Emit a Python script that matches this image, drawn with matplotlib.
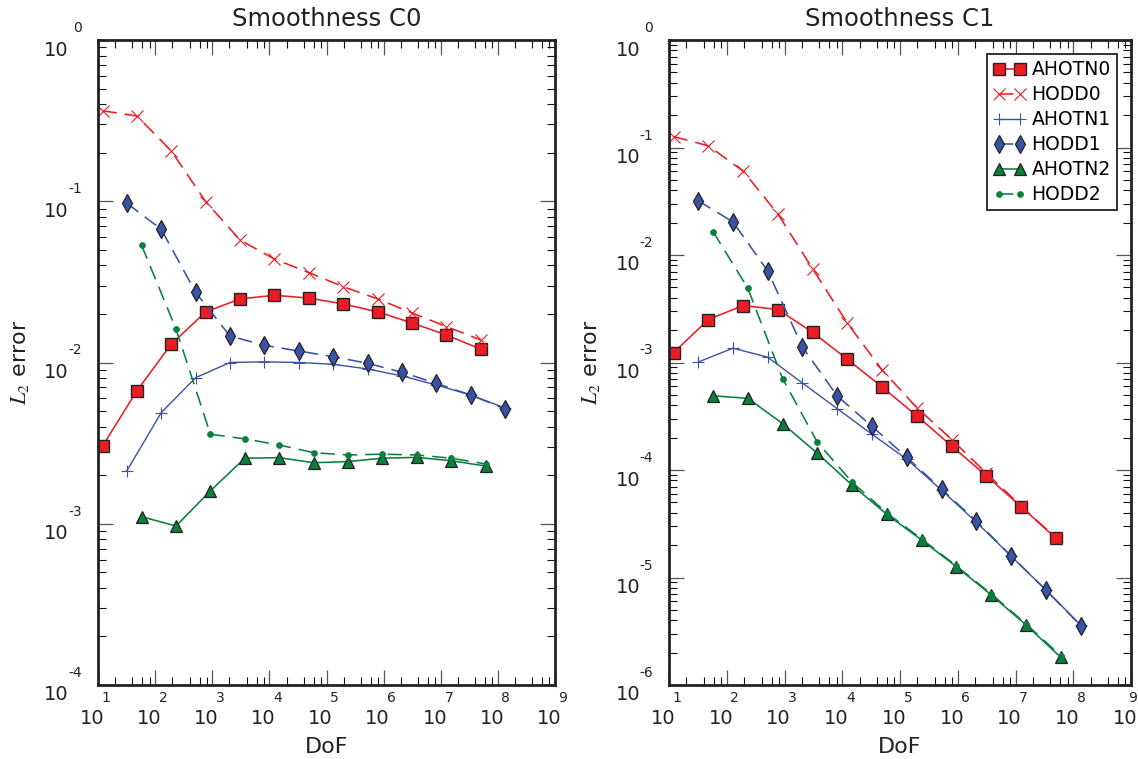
import numpy as np
import matplotlib
matplotlib.use('Agg')
import matplotlib.pyplot as plt
from matplotlib.ticker import LogLocator, NullFormatter

plt.rcParams['font.family'] = 'DejaVu Sans'
plt.rcParams['mathtext.fontset'] = 'stix'

# degrees of freedom for each polynomial order
dof_p0 = [12, 48, 192, 768, 3072, 12288, 49152, 196608, 786432, 3145728, 12582912, 50331648]
dof_p1 = [32, 128, 512, 2048, 8192, 32768, 131072, 524288, 2097152, 8388608, 33554432, 134217728]
dof_p2 = [58, 232, 928, 3712, 14848, 59392, 237568, 950272, 3801088, 15204352, 60817408]

# Smoothness C0
c0_ahotn0 = [3.03e-3, 6.68e-3, 1.30e-2, 2.06e-2, 2.48e-2, 2.61e-2, 2.51e-2, 2.31e-2, 2.06e-2, 1.76e-2, 1.48e-2, 1.21e-2]
c0_hodd0 = [0.364, 0.338, 0.205, 0.0994, 0.0575, 0.0438, 0.0361, 0.0295, 0.0248, 0.0203, 0.0167, 0.0138]
c0_ahotn1 = [2.13e-3, 4.89e-3, 8.05e-3, 1.00e-2, 1.01e-2, 1.00e-2, 9.75e-3, 9.12e-3, 8.25e-3, 7.25e-3, 6.28e-3, 5.22e-3]
c0_hodd1 = [0.0971, 0.0670, 0.0272, 1.459e-2, 1.278e-2, 1.178e-2, 1.086e-2, 9.89e-3, 8.69e-3, 7.43e-3, 6.28e-3, 5.15e-3]
c0_ahotn2 = [1.106e-3, 9.68e-4, 1.60e-3, 2.55e-3, 2.57e-3, 2.39e-3, 2.43e-3, 2.55e-3, 2.58e-3, 2.46e-3, 2.28e-3]
c0_hodd2 = [0.0533, 0.01614, 3.59e-3, 3.36e-3, 3.08e-3, 2.76e-3, 2.67e-3, 2.70e-3, 2.67e-3, 2.55e-3, 2.35e-3]

# Smoothness C1
c1_ahotn0 = [1.233e-3, 2.51e-3, 3.39e-3, 3.11e-3, 1.91e-3, 1.07e-3, 5.91e-4, 3.18e-4, 1.67e-4, 8.82e-5, 4.54e-5, 2.31e-5]
c1_hodd0 = [0.1265, 0.1037, 0.0604, 0.0241, 7.43e-3, 2.32e-3, 8.5e-4, 3.80e-4, 1.92e-4, 9.33e-5, 4.61e-5, 2.33e-5]
c1_ahotn1 = [1.009e-3, 1.36e-3, 1.12e-3, 6.44e-4, 3.72e-4, 2.15e-4, 1.26e-4, 6.49e-5, 3.27e-5, 1.58e-5, 7.66e-6, 3.62e-6]
c1_hodd1 = [0.0320, 0.0203, 7.11e-3, 1.39e-3, 4.88e-4, 2.55e-4, 1.31e-4, 6.64e-5, 3.35e-5, 1.59e-5, 7.66e-6, 3.57e-6]
c1_ahotn2 = [4.90e-4, 4.64e-4, 2.70e-4, 1.43e-4, 7.22e-5, 3.86e-5, 2.23e-5, 1.26e-5, 6.88e-6, 3.62e-6, 1.81e-6]
c1_hodd2 = [0.01648, 4.90e-3, 7.07e-4, 1.81e-4, 7.71e-5, 3.97e-5, 2.28e-5, 1.28e-5, 7.03e-6, 3.70e-6, 1.87e-6]

labels = ['AHOTN0', 'HODD0', 'AHOTN1', 'HODD1', 'AHOTN2', 'HODD2']

red = '#ec1c24'
blue = '#3953a4'
green = '#0a7f3e'
dash = (0, (9, 5))

styles = [
    dict(color=red, ls='-', lw=1.15, marker='s', ms=9, mfc=red, mec='#222', mew=1.0),
    dict(color=red, ls=dash, lw=1.15, marker='x', ms=8.5, mec=red, mew=0.8),
    dict(color=blue, ls='-', lw=1.0, marker='+', ms=9, mec=blue, mew=0.8),
    dict(color=blue, ls=dash, lw=1.15, marker='d', ms=9, mfc=blue, mec='#222', mew=0.9),
    dict(color=green, ls='-', lw=1.15, marker='^', ms=9, mfc=green, mec='#222', mew=0.9),
    dict(color=green, ls=dash, lw=1.15, marker='o', ms=4.3, mfc=green, mec=green, mew=0.5),
]

fig = plt.figure(figsize=(11.38, 7.59), dpi=100)
ax1 = fig.add_axes([98/1138, 74/759, 457/1138, 645/759])
ax2 = fig.add_axes([669/1138, 74/759, 462/1138, 645/759])


def setup(ax, title, ymin_exp, last_exp_dx=8):
    ax.set_xscale('log')
    ax.set_yscale('log')
    ax.set_xlim(1e1, 1e9)
    ax.set_ylim(10.0**ymin_exp, 1)
    ax.xaxis.set_major_locator(LogLocator(base=10, numticks=20))
    ax.xaxis.set_minor_locator(LogLocator(base=10, subs=(2, 4, 6, 8), numticks=20))
    ax.yaxis.set_major_locator(LogLocator(base=10, numticks=20))
    ax.yaxis.set_minor_locator(LogLocator(base=10, subs=np.arange(2, 10), numticks=20))
    for a in (ax.xaxis, ax.yaxis):
        a.set_major_formatter(NullFormatter())
        a.set_minor_formatter(NullFormatter())
    ax.tick_params(which='both', direction='in', top=True, right=True)
    ax.tick_params(which='major', length=10.5, width=0.9, color='#555')
    ax.tick_params(which='minor', length=5.5, width=0.8, color='#111')
    for s in ax.spines.values():
        s.set_linewidth(2)
        s.set_color('#222')

    # gnuplot-like "10" + exponent labels
    for k in range(1, 10):
        dx = last_exp_dx if k == 9 else 8
        ax.annotate('10', xy=(10.0**k, 0), xycoords=('data', 'axes fraction'),
                    xytext=(-6, -34), textcoords='offset pixels',
                    ha='center', va='center', fontsize=14, color='#222', annotation_clip=False)
        ax.annotate(str(k), xy=(10.0**k, 0), xycoords=('data', 'axes fraction'),
                    xytext=(dx, -13), textcoords='offset pixels',
                    ha='center', va='center', fontsize=10, color='#222', annotation_clip=False)
    for k in range(ymin_exp, 1):
        ax.annotate('10', xy=(0, 10.0**k), xycoords=('axes fraction', 'data'),
                    xytext=(-29, -10), textcoords='offset pixels',
                    ha='right', va='center', fontsize=14, color='#222', annotation_clip=False)
        ax.annotate(str(k), xy=(0, 10.0**k), xycoords=('axes fraction', 'data'),
                    xytext=(-16, 12), textcoords='offset pixels',
                    ha='right', va='center', fontsize=10, color='#222', annotation_clip=False)

    ax.annotate(title, xy=(0.5, 1), xycoords='axes fraction', xytext=(0, 21),
                textcoords='offset pixels', ha='center', va='center', fontsize=17.5, color='#222')
    ax.annotate('DoF', xy=(0.5, 0), xycoords='axes fraction', xytext=(0, -62),
                textcoords='offset pixels', ha='center', va='center', fontsize=16, color='#222')
    ax.annotate(r'$L_2$ error', xy=(0, 0.5), xycoords='axes fraction', xytext=(-78, 0),
                textcoords='offset pixels', ha='center', va='center', rotation=90,
                fontsize=16, color='#222')


c0 = [c0_ahotn0, c0_hodd0, c0_ahotn1, c0_hodd1, c0_ahotn2, c0_hodd2]
c1 = [c1_ahotn0, c1_hodd0, c1_ahotn1, c1_hodd1, c1_ahotn2, c1_hodd2]
dofs = [dof_p0, dof_p0, dof_p1, dof_p1, dof_p2, dof_p2]

for ax, series in ((ax1, c0), (ax2, c1)):
    for lab, x, y, st in zip(labels, dofs, series, styles):
        ax.plot(x, y, label=lab, **st)

setup(ax1, 'Smoothness C0', -4)
setup(ax2, 'Smoothness C1', -6, last_exp_dx=2)

leg = ax2.legend(loc='upper right', fontsize=13.5, numpoints=2, handlelength=1.75,
                 handletextpad=0.3, labelspacing=0.32, borderpad=0.33,
                 borderaxespad=0.75, fancybox=False, framealpha=1)
leg.get_frame().set_edgecolor('#222')
leg.get_frame().set_linewidth(1.3)

fig.savefig('out.png', dpi=100)
